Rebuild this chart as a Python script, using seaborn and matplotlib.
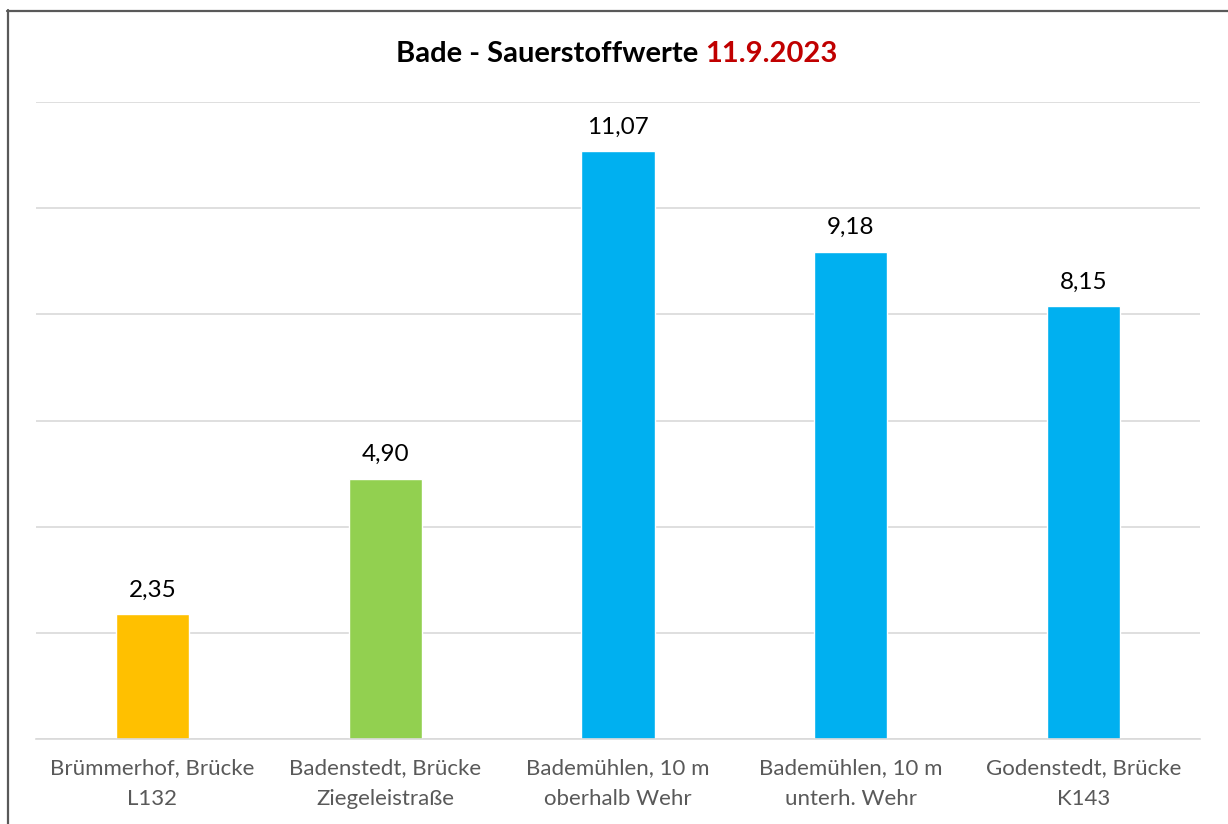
import matplotlib
matplotlib.use("Agg")
import matplotlib.pyplot as plt
from matplotlib.lines import Line2D
import seaborn as sns
import pandas as pd

# Messstellen und gemessene Sauerstoffwerte (mg/l)
stations = [
    "Brümmerhof, Brücke\nL132",
    "Badenstedt, Brücke\nZiegeleistraße",
    "Bademühlen, 10 m\noberhalb Wehr",
    "Bademühlen, 10 m\nunterh. Wehr",
    "Godenstedt, Brücke\nK143",
]
oxygen = [2.35, 4.90, 11.07, 9.18, 8.15]
bar_colors = ["#FFC000", "#92D050", "#00B0F0", "#00B0F0", "#00B0F0"]
title_main = "Bade - Sauerstoffwerte "
title_date = "11.9.2023"

sns.set_theme(style="white")
plt.rcParams["font.family"] = ["Lato", "DejaVu Sans"]

W, H = 1228, 824
fig = plt.figure(figsize=(W / 100, H / 100), dpi=100)
fig.patch.set_facecolor("white")
ax = fig.add_axes([36 / W, 1 - 739 / H, (1200 - 36) / W, (739 - 102) / H])

df = pd.DataFrame({"Messstelle": stations, "Sauerstoff": oxygen})
sns.barplot(data=df, x="Messstelle", y="Sauerstoff", hue="Messstelle",
            palette=bar_colors, width=0.314, dodge=False, legend=False,
            saturation=1, ax=ax)

ax.set_ylim(0, 12)
ax.set_xlim(-0.5, 4.5)
ax.set_yticks(range(0, 13, 2))
ax.yaxis.grid(True, color="#D9D9D9", linewidth=1.2)
ax.set_axisbelow(True)
ax.set_yticklabels([])
ax.tick_params(axis="y", length=0)
ax.tick_params(axis="x", length=0, pad=14, labelsize=16, labelcolor="#595959")
for lab in ax.get_xticklabels():
    lab.set_linespacing(1.65)
for s in ["top", "right", "left"]:
    ax.spines[s].set_visible(False)
ax.spines["bottom"].set_color("#D9D9D9")
ax.spines["bottom"].set_linewidth(1.2)
ax.set_xlabel("")
ax.set_ylabel("")

for container in ax.containers:
    vals = container.datavalues
    ax.bar_label(container, labels=[f"{v:.2f}".replace(".", ",") for v in vals],
                 padding=10, fontsize=17.5, color="black")

# Zweifarbiger Titel, zentriert über der Grafik
ty = 1 - 62 / H
t1 = fig.text(0, ty, title_main, fontsize=21, fontweight="bold", color="black",
              ha="left", va="baseline")
t2 = fig.text(0, ty, title_date, fontsize=21, fontweight="bold", color="#C00000",
              ha="left", va="baseline")
renderer = fig.canvas.get_renderer()
w1 = t1.get_window_extent(renderer).width
w2 = t2.get_window_extent(renderer).width
x0 = (617 - (w1 + w2) / 2)
t1.set_x(x0 / W)
t2.set_x((x0 + w1) / W)

# Rahmen des Diagrammbereichs
frame = dict(color="#595959", linewidth=1.6, transform=fig.transFigure)
fig.add_artist(Line2D([7.5 / W, 7.5 / W], [0, 1 - 10 / H], **frame))
fig.add_artist(Line2D([7 / W, 1], [1 - 10.5 / H, 1 - 10.5 / H], **frame))

fig.savefig("out.png", dpi=100)
